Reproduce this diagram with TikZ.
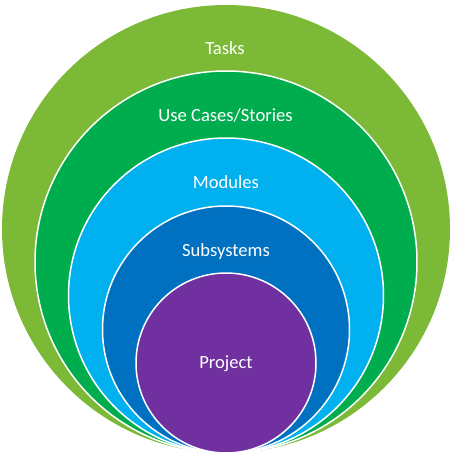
\documentclass[tikz,border=0pt]{standalone}
\usepackage{fontspec}
\setmainfont{Carlito}
\definecolor{tasksc}{HTML}{7CB937}
\definecolor{usec}{HTML}{00AD4E}
\definecolor{modc}{HTML}{00B0EF}
\definecolor{subc}{HTML}{0070C0}
\definecolor{projc}{HTML}{7030A0}
\begin{document}
\begin{tikzpicture}[x=1pt,y=-1pt,
  ring/.style={draw=white,line width=1.5pt},
  lbl/.style={text=white,anchor=base,font=\fontsize{18.6}{22}\selectfont,inner sep=0pt}]
\useasboundingbox (0,0) rectangle (452,456);
\fill[tasksc] (226,229) circle[radius=224];
\filldraw[ring,fill=usec] (226,262) circle[radius=191];
\filldraw[ring,fill=modc] (226,295.5) circle[radius=157.5];
\filldraw[ring,fill=subc] (226,329.5) circle[radius=123.5];
\filldraw[ring,fill=projc] (226,363) circle[radius=90];
\node[lbl] (tasks) at (225,54.3) {Tasks};
\node[lbl] (use) at (225.5,121.3) {Use Cases/Stories};
\node[lbl] (mod) at (226,188) {Modules};
\node[lbl] (sub) at (226,256) {Subsystems};
\node[lbl] (proj) at (226,368) {Project};
\end{tikzpicture}
\end{document}
